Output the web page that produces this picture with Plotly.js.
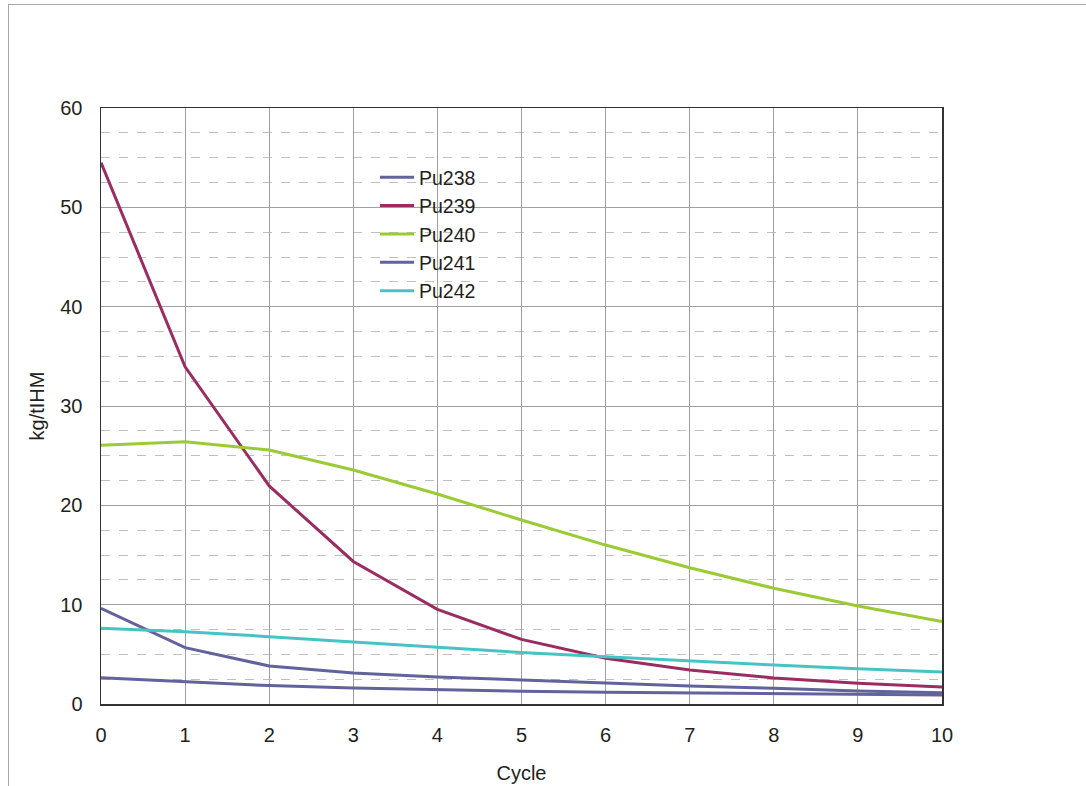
<!DOCTYPE html>
<html>
<head>
<meta charset="utf-8">
<script src="https://cdn.plot.ly/plotly-3.0.1.min.js"></script>
<style>
  html, body { margin: 0; padding: 0; background: #fff; }
  #frame { position: absolute; left: 8px; top: 4px; width: 1200px; height: 900px;
           border-top: 1.5px solid #a8a8a8; border-left: 1.5px solid #a8a8a8; }
  #chart { position: absolute; left: 0; top: 0; width: 1086px; height: 786px; }
</style>
</head>
<body>
<div id="frame"></div>
<div id="chart"></div>
<script>
const cycles = [0, 1, 2, 3, 4, 5, 6, 7, 8, 9, 10];
const pu238 = [2.65, 2.25, 1.85, 1.61, 1.41, 1.28, 1.18, 1.11, 1.04, 0.97, 0.91];
const pu239 = [54.5, 33.95, 21.95, 14.35, 9.53, 6.5, 4.6, 3.42, 2.62, 2.08, 1.7];
const pu240 = [26.04, 26.4, 25.57, 23.56, 21.14, 18.52, 16.0, 13.72, 11.65, 9.87, 8.29];
const pu241 = [9.63, 5.67, 3.83, 3.12, 2.72, 2.4, 2.08, 1.81, 1.58, 1.31, 1.14];
const pu242 = [7.63, 7.28, 6.78, 6.24, 5.7, 5.18, 4.76, 4.33, 3.93, 3.56, 3.22];

const names = ['Pu238', 'Pu239', 'Pu240', 'Pu241', 'Pu242'];
const series = [pu238, pu239, pu240, pu241, pu242];
const colors = ['#62629c', '#9b2c61', '#9acb35', '#62629c', '#45c3c5'];

const traces = series.map((ys, i) => ({
  x: cycles, y: ys, type: 'scatter', mode: 'lines', name: names[i],
  line: { color: colors[i], width: 3 }
}));

const font = { family: 'Liberation Sans, Arial, sans-serif', color: '#231f20' };
const f = (s) => Object.assign({ size: s }, font);

const layout = {
  width: 1086, height: 786,
  margin: { l: 101, r: 144, t: 108, b: 82 },
  paper_bgcolor: 'rgba(0,0,0,0)', plot_bgcolor: '#fff',
  font: f(20),
  showlegend: true,
  legend: {
    x: 0.3258, xanchor: 'left', y: 0.916, yanchor: 'top',
    bgcolor: 'rgba(0,0,0,0)', borderwidth: 0,
    font: f(19.5), itemwidth: 34
  },
  shapes: [{
    type: 'rect', xref: 'paper', yref: 'paper', layer: 'between',
    x0: 0.2937, x1: 0.4863, y0: 0.6695, y1: 0.9044,
    fillcolor: '#fff', line: { width: 0 }
  }],
  xaxis: {
    range: [0, 10], dtick: 1, tick0: 0,
    showgrid: true, gridcolor: '#a0a0a0', gridwidth: 1,
    showline: true, mirror: true, linecolor: '#333', linewidth: 1.5,
    ticks: 'outside', ticklen: 12, tickcolor: 'rgba(0,0,0,0)',
    zeroline: false,
    tickfont: f(20),
    title: { text: 'Cycle', font: f(20), standoff: 21 }
  },
  yaxis: {
    range: [0, 60], dtick: 10, tick0: 0,
    showgrid: true, gridcolor: '#a0a0a0', gridwidth: 1,
    minor: { dtick: 2.5, showgrid: true, gridcolor: '#c0c0c0', griddash: 'dash', gridwidth: 1 },
    showline: true, mirror: true, linecolor: '#333', linewidth: 1.5,
    ticks: 'outside', ticklen: 13, tickcolor: 'rgba(0,0,0,0)',
    zeroline: false,
    tickfont: f(20),
    title: { text: 'kg/tIHM', font: f(20), standoff: 10 }
  }
};

Plotly.newPlot('chart', traces, layout, { displayModeBar: false, staticPlot: true });
</script>
</body>
</html>
